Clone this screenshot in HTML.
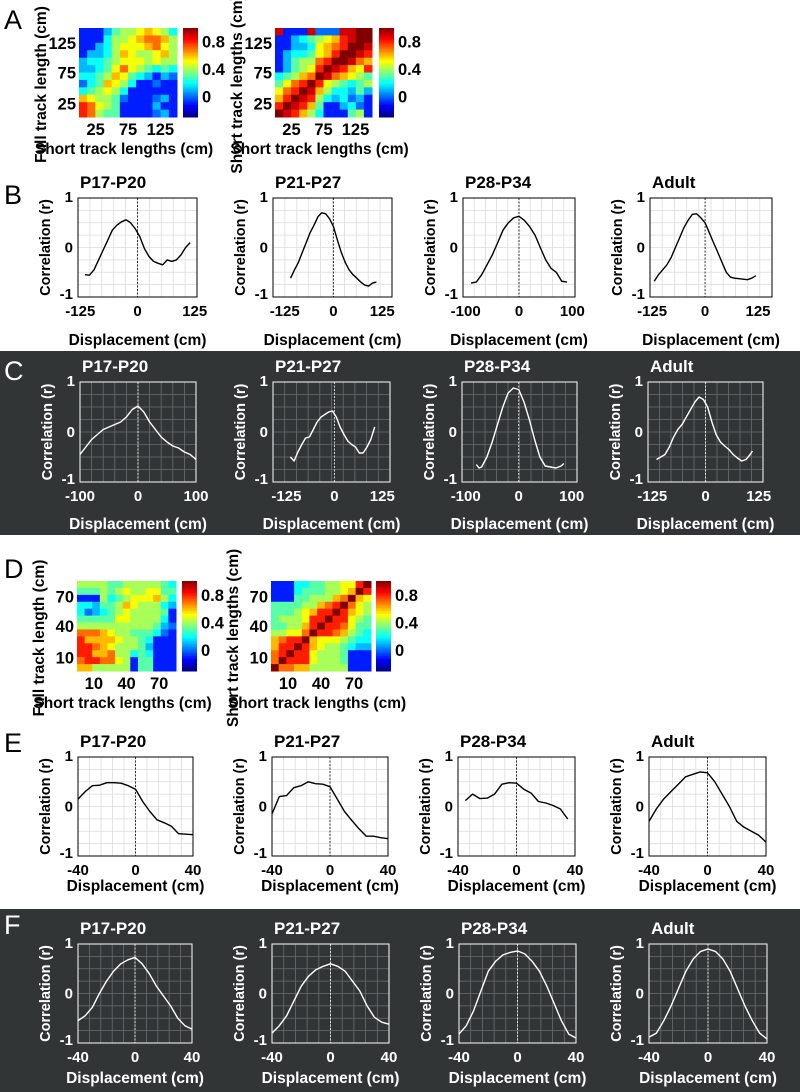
<!DOCTYPE html>
<html><head><meta charset="utf-8"><style>
html,body{margin:0;padding:0;background:#fff}
svg{display:block;font-family:"Liberation Sans",sans-serif}
</style></head><body>
<svg id="fig" width="800" height="1092" viewBox="0 0 800 1092" xmlns="http://www.w3.org/2000/svg">
<rect x="0" y="351" width="800" height="184" fill="#313536"/>
<rect x="0" y="909" width="800" height="183" fill="#313536"/>
</svg>
<script>
// ---------- heatmap data (values in tenths of r) ----------
const heatA1 = [
[-2,-2,-1,1,3,4,4,5,6,5,4,2],
[-2,-2,-1,2,4,4,5,6,7,7,6,4],
[-2,-1,1,2,4,5,5,5,6,7,5,4],
[-1,1,1,2,4,6,5,4,4,5,6,4],
[1,2,2,3,4,5,5,5,4,5,4,4],
[1,1,2,3,5,7,5,4,3,2,3,2],
[2,2,3,4,6,5,3,2,1,-1,1,0],
[0,2,3,6,5,4,2,-1,-1,0,-1,-2],
[2,3,4,5,4,2,-1,-2,-1,-2,-1,-2],
[6,5,4,4,3,0,-2,-2,-1,0,1,-2],
[8,7,5,4,3,-1,-2,-2,-1,1,-2,-2],
[8,7,4,3,3,-2,-2,-2,-2,0,1,-2]];
const heatA2 = [
[9,-2,-2,-2,9,0,0,0,9,9,10,10],
[-2,-2,1,2,3,4,5,6,8,9,10,10],
[-2,-2,1,1,2,5,6,7,8,10,10,9],
[-2,1,2,2,3,5,6,8,10,10,9,8],
[-2,1,3,4,4,7,8,10,10,9,7,6],
[-2,1,3,4,5,8,10,9,8,6,5,8],
[2,3,4,6,7,10,9,7,6,5,4,3],
[3,5,7,8,10,8,5,4,3,2,3,4],
[5,7,8,10,9,6,4,2,2,1,3,1],
[6,8,10,9,8,4,2,1,2,0,1,-2],
[8,10,9,8,6,3,-1,-1,1,2,0,-2],
[10,9,8,6,4,2,-2,-2,-1,3,4,-2]];
const heatD1 = [
[4,4,4,4,3,3,4,4,4,4,4,3,2],
[3,3,3,4,3,4,5,4,4,5,5,3,3],
[-1,-1,-1,4,2,3,4,5,5,5,6,4,2],
[2,2,1,3,3,4,6,5,4,4,4,2,1],
[2,0,1,2,3,4,5,4,4,4,4,3,-1],
[3,3,3,3,3,5,5,4,4,4,4,2,-1],
[4,4,4,4,4,4,4,4,4,4,3,1,0],
[7,7,7,6,5,4,4,3,3,3,2,0,-1],
[8,6,6,6,6,5,4,4,3,2,-1,-1,-1],
[8,8,7,6,5,4,4,4,3,1,-1,-2,-1],
[8,8,6,6,7,4,4,2,3,2,-1,-2,-2],
[7,8,8,7,7,5,4,-1,3,3,-2,-2,-2],
[6,6,4,4,4,4,4,-1,3,3,-2,-2,-2]];
const heatD2 = [
[-1,-1,-1,2,2,3,3,4,4,5,5,8,10],
[-1,-1,-1,2,3,3,3,4,4,5,6,10,8],
[-1,-1,-1,3,3,4,4,4,6,7,10,6,5],
[3,3,3,3,4,4,6,7,8,10,7,5,4],
[3,3,3,4,5,6,8,8,10,8,6,5,4],
[3,4,4,4,5,8,8,10,8,8,5,4,3],
[3,3,4,4,6,8,10,8,8,7,5,3,3],
[4,4,5,5,7,10,8,8,7,6,4,3,2],
[6,7,8,8,10,6,5,5,5,4,3,2,2],
[6,8,8,10,8,6,5,4,4,3,2,1,1],
[7,8,10,8,8,5,4,4,4,3,-1,-1,-1],
[7,10,8,8,8,5,4,4,4,3,-1,-1,-1],
[10,7,7,6,6,4,4,4,4,4,-1,-1,-1]];
const heatTicksA = ["25","75","125"];
const heatTicksD = ["10","40","70"];
const cbarTicks = [0.8,0.4,0];

// ---------- line data ----------
const groups = ["P17-P20","P21-P27","P28-P34","Adult"];
const xB1=[-115,-105,-95,-85,-75,-65,-55,-45,-35,-25,-15,-5,5,15,25,35,45,55,65,75,85,95,105,115];
const yB1=[-0.55,-0.56,-0.45,-0.25,-0.05,0.15,0.35,0.45,0.52,0.56,0.5,0.38,0.22,-0.02,-0.18,-0.28,-0.32,-0.35,-0.25,-0.28,-0.25,-0.15,0.0,0.1];
const xB2=[-110,-100,-90,-80,-70,-60,-50,-40,-30,-20,-10,0,10,20,30,40,50,60,70,80,90,100,110];
const yB2=[-0.62,-0.45,-0.3,-0.1,0.1,0.3,0.45,0.62,0.7,0.68,0.58,0.42,0.15,-0.1,-0.3,-0.45,-0.55,-0.62,-0.7,-0.76,-0.78,-0.72,-0.7];
const xB3=[-90,-80,-70,-60,-50,-40,-30,-20,-10,0,10,20,30,40,50,60,70,80,90];
const yB3=[-0.72,-0.7,-0.55,-0.35,-0.15,0.1,0.35,0.5,0.6,0.63,0.55,0.42,0.25,0.0,-0.25,-0.42,-0.5,-0.68,-0.7];
const xB4=[-120,-110,-100,-90,-80,-70,-60,-50,-40,-30,-20,-10,0,10,20,30,40,50,60,70,80,90,100,110,120];
const yB4=[-0.68,-0.55,-0.45,-0.35,-0.2,0.0,0.2,0.4,0.55,0.67,0.68,0.6,0.5,0.3,0.1,-0.1,-0.3,-0.5,-0.6,-0.62,-0.63,-0.64,-0.65,-0.62,-0.57];
const xC1=[-100,-90,-80,-70,-60,-50,-40,-30,-20,-10,0,10,20,30,40,50,60,70,80,90,100];
const yC1=[-0.45,-0.3,-0.15,-0.05,0.05,0.1,0.15,0.2,0.3,0.45,0.52,0.4,0.2,0.05,-0.1,-0.2,-0.28,-0.32,-0.4,-0.45,-0.55];
const xC2=[-115,-105,-95,-85,-75,-65,-55,-45,-35,-25,-15,-5,5,15,25,35,45,55,65,75,85,95,105];
const yC2=[-0.5,-0.58,-0.4,-0.25,-0.12,-0.1,0.05,0.2,0.3,0.35,0.4,0.42,0.3,0.1,-0.05,-0.18,-0.25,-0.3,-0.42,-0.42,-0.3,-0.15,0.1];
const xC3=[-80,-75,-70,-60,-50,-40,-30,-20,-10,0,10,20,30,40,50,60,70,80,85];
const yC3=[-0.65,-0.72,-0.7,-0.5,-0.2,0.15,0.5,0.78,0.88,0.85,0.6,0.25,-0.15,-0.5,-0.68,-0.7,-0.72,-0.68,-0.63];
const xC4=[-115,-105,-95,-85,-75,-65,-55,-45,-35,-25,-15,-5,5,15,25,35,45,55,65,75,85,95,105,110];
const yC4=[-0.55,-0.5,-0.45,-0.3,-0.1,0.05,0.15,0.3,0.45,0.6,0.7,0.65,0.5,0.2,-0.05,-0.2,-0.28,-0.35,-0.45,-0.52,-0.58,-0.55,-0.45,-0.38];
const xE=[-40,-35,-30,-25,-20,-15,-10,-5,0,5,10,15,20,25,30,35,40];
const yE1=[0.15,0.3,0.42,0.43,0.48,0.48,0.47,0.42,0.35,0.1,-0.1,-0.27,-0.33,-0.4,-0.55,-0.56,-0.57];
const yE2=[-0.15,0.2,0.22,0.38,0.42,0.5,0.46,0.45,0.4,0.15,-0.1,-0.28,-0.45,-0.6,-0.6,-0.63,-0.65];
const xE3=[-35,-30,-25,-20,-15,-10,-5,0,5,10,15,20,25,30,35];
const yE3=[0.12,0.25,0.16,0.17,0.25,0.45,0.48,0.47,0.35,0.27,0.1,0.07,0.02,-0.05,-0.25];
const yE4=[-0.3,-0.05,0.15,0.3,0.45,0.6,0.65,0.7,0.68,0.5,0.25,0.0,-0.3,-0.42,-0.5,-0.58,-0.72];
const yF1=[-0.55,-0.45,-0.28,0.0,0.25,0.45,0.6,0.68,0.73,0.6,0.4,0.15,-0.05,-0.25,-0.5,-0.65,-0.72];
const yF2=[-0.8,-0.65,-0.45,-0.15,0.15,0.35,0.48,0.55,0.6,0.55,0.45,0.25,0.05,-0.25,-0.48,-0.58,-0.62];
const yF3=[-0.82,-0.65,-0.35,0.05,0.45,0.65,0.78,0.83,0.86,0.8,0.65,0.45,0.15,-0.2,-0.55,-0.82,-0.9];
const yF4=[-0.88,-0.8,-0.55,-0.25,0.1,0.45,0.7,0.85,0.9,0.85,0.7,0.45,0.1,-0.25,-0.55,-0.8,-0.92];
const yTicks=[1,0,-1];

const NS="http://www.w3.org/2000/svg";
const svg=document.getElementById('fig');
function el(tag,attrs,parent){const e=document.createElementNS(NS,tag);for(const k in attrs)e.setAttribute(k,attrs[k]);(parent||svg).appendChild(e);return e;}
function txt(s,x,y,attrs,parent){const t=el('text',Object.assign({x:x,y:y,'font-weight':'bold','font-size':15},attrs),parent);t.textContent=s;return t;}

function jet(v){ // v in r, range -0.3..1.0
  let t=(v+0.3)/1.3; t=Math.max(0,Math.min(1,t));
  const r=Math.max(0,Math.min(1,1.5-Math.abs(4*t-3)));
  const g=Math.max(0,Math.min(1,1.5-Math.abs(4*t-2)));
  const b=Math.max(0,Math.min(1,1.5-Math.abs(4*t-1)));
  return `rgb(${Math.round(r*255)},${Math.round(g*255)},${Math.round(b*255)})`;
}

const letters=[["A",4,29,"#000"],["B",4,204,"#000"],["C",4,380,"#fff"],["D",4,578,"#000"],["E",4,752,"#000"],["F",4,934,"#fff"]];
for(const L of letters){
  const t=txt(L[0],L[1],L[2],{'font-size':27,'font-weight':'normal',fill:L[3]});
  
  
}

function heatmap(data,x0,y0,w,h,cbx,ticks,ylab,name){
  const g=el('g',{});
  
  
  const n=data.length, m=data[0].length;
  const cw=w/m, ch=h/n;
  data.forEach((row,i)=>row.forEach((v,j)=>{
    const c=el('rect',{x:x0+j*cw,y:y0+i*ch,width:cw+0.5,height:ch+0.5,fill:jet(Math.max(v/10,-0.1))},g);
    
    
  }));
  const steps=60;
  for(let k=0;k<steps;k++){
    const v=1.0-(k+0.5)/steps*1.3;
    el('rect',{x:cbx,y:y0+k*h/steps,width:15,height:h/steps+0.5,fill:jet(v)},g);
  }
  for(const tv of cbarTicks){
    const yy=y0+(1.0-tv)/1.3*h;
    const t=txt(String(tv),cbx+19,yy+6,{'font-size':16.5},g);
    
    
  }
  ticks.forEach((s,k)=>{
    const tx=x0+w*((k===0)?0.17:(k===1?0.5:0.83));
    const t1=txt(s,tx,y0+h+18,{'text-anchor':'middle','font-size':16.5},g);
    
    
    const ty=y0+h*((k===0)?0.85:(k===1?0.5:0.17));
    const t2=txt(s,x0-3,ty+6,{'text-anchor':'end','font-size':16.5},g);
    
    
  });
  const xl=txt("Short track lengths (cm)",x0+w/2-4,y0+h+37,{'text-anchor':'middle','font-size':15.5},g);
  
  
  const ylx=x0-33, yly=y0+h/2+12;
  const yl=txt(ylab,ylx,yly,{'text-anchor':'middle','font-size':15.5,transform:`rotate(-90 ${ylx} ${yly})`},g);
  
  
}
heatmap(heatA1,79,28,98,89,183,heatTicksA,"Full track length (cm)","heatmap-a-full");
heatmap(heatA2,275,28,97,89,379,heatTicksA,"Short track lengths (cm)","heatmap-a-short");
heatmap(heatD1,77,581,99,90,182,heatTicksD,"Full track length (cm)","heatmap-d-full");
heatmap(heatD2,271,581,100,90,376,heatTicksD,"Short track lengths (cm)","heatmap-d-short");

function linePlot(o){
  const dark=o.dark, fg=dark?"#fff":"#000", grid=dark?"#6a6e70":"#dcdcdc";
  const g=el('g',{});
  
  
  const [x0,x1]=o.box, [y0,y1]=o.ybox, [d0,d1]=o.dom;
  const sx=v=>x0+(v-d0)/(d1-d0)*(x1-x0);
  const sy=v=>y0+(1-v)/2*(y1-y0);
  for(let k=1;k<10;k++){const xx=x0+k*(x1-x0)/10;el('line',{x1:xx,x2:xx,y1:y0,y2:y1,stroke:grid,'stroke-width':0.8},g);}
  for(let k=1;k<8;k++){const yy=y0+k*(y1-y0)/8;el('line',{x1:x0,x2:x1,y1:yy,y2:yy,stroke:grid,'stroke-width':0.8},g);}
  el('line',{x1:sx(0),x2:sx(0),y1:y0,y2:y1,stroke:fg,'stroke-width':0.8,'stroke-dasharray':'2,1.5'},g);
  el('rect',{x:x0,y:y0,width:x1-x0,height:y1-y0,fill:'none',stroke:fg,'stroke-width':1},g);
  const pts=o.xs.map((x,i)=>sx(x).toFixed(1)+","+sy(o.ys[i]).toFixed(1)).join(" ");
  const pl=el('polyline',{points:pts,fill:'none',stroke:fg,'stroke-width':1.4,'stroke-linejoin':'round'},g);
  
  
  const tt=txt(o.title,x0+2,y0-10,{'font-size':17,fill:fg},g);
  
  
  for(const v of yTicks){
    const t=txt(String(v),x0-5,sy(v)+(v===1?4:v===-1?2:5),{'text-anchor':'end',fill:fg},g);
    
    
  }
  for(const v of o.xt){
    const t=txt(String(v),sx(v),y1+19,{'text-anchor':'middle',fill:fg},g);
    
    
  }
  const xl=txt("Displacement (cm)",(x0+x1)/2,y1+o.xlOff,{'text-anchor':'middle',fill:fg,'font-size':15.5},g);
  
  
  const lx=x0-28, ly=(y0+y1)/2;
  const yl=txt("Correlation (r)",lx,ly,{'text-anchor':'middle',fill:fg,'font-size':14.5,transform:`rotate(-90 ${lx} ${ly})`},g);
  
  
}
const rows=[
 {y:[198,297],dark:false,xlOff:48,plots:[
   {box:[78,197],dom:[-130,130],xs:xB1,ys:yB1,xt:[-125,0,125]},
   {box:[273,392],dom:[-155,150],xs:xB2,ys:yB2,xt:[-125,0,125]},
   {box:[463,575],dom:[-105,105],xs:xB3,ys:yB3,xt:[-100,0,100]},
   {box:[650,772],dom:[-130,158],xs:xB4,ys:yB4,xt:[-125,0,125]}],tag:'b'},
 {y:[382,482],dark:true,xlOff:47,plots:[
   {box:[80,196],dom:[-100,100],xs:xC1,ys:yC1,xt:[-100,0,100]},
   {box:[273,390],dom:[-160,145],xs:xC2,ys:yC2,xt:[-125,0,125]},
   {box:[462,577],dom:[-107,110],xs:xC3,ys:yC3,xt:[-100,0,100]},
   {box:[648,763],dom:[-135,135],xs:xC4,ys:yC4,xt:[-125,0,125]}],tag:'c'},
 {y:[757,856],dark:false,xlOff:35,plots:[
   {box:[78,193],dom:[-40,40],xs:xE,ys:yE1,xt:[-40,0,40]},
   {box:[272,388],dom:[-40,40],xs:xE,ys:yE2,xt:[-40,0,40]},
   {box:[458,575],dom:[-40,40],xs:xE3,ys:yE3,xt:[-40,0,40]},
   {box:[649,766],dom:[-40,40],xs:xE,ys:yE4,xt:[-40,0,40]}],tag:'e'},
 {y:[944,1043],dark:true,xlOff:40,plots:[
   {box:[78,192],dom:[-40,40],xs:xE,ys:yF1,xt:[-40,0,40]},
   {box:[272,389],dom:[-40,40],xs:xE,ys:yF2,xt:[-40,0,40]},
   {box:[459,576],dom:[-40,40],xs:xE,ys:yF3,xt:[-40,0,40]},
   {box:[649,767],dom:[-40,40],xs:xE,ys:yF4,xt:[-40,0,40]}],tag:'f'}
];
rows.forEach(r=>r.plots.forEach((p,i)=>{
  linePlot(Object.assign({ybox:r.y,dark:r.dark,xlOff:r.xlOff,title:groups[i],name:`plot-${r.tag}-${groups[i].toLowerCase()}`},p));
}));
</script>
</body></html>
